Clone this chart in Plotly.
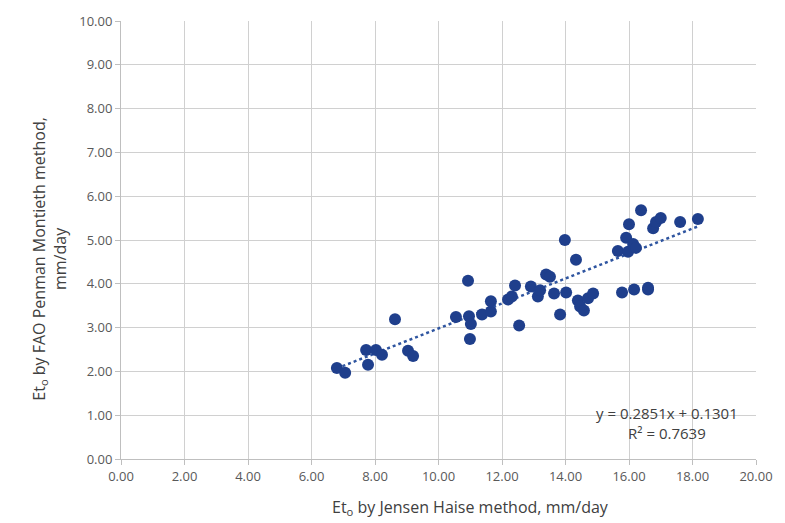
import numpy as np
import plotly.graph_objects as go

jensen_haise = [6.80, 7.06, 7.72, 7.78, 8.03, 8.22, 8.63, 9.04, 9.20, 10.55,
                10.93, 10.96, 11.02, 10.99, 11.37, 11.65, 11.65, 12.19, 12.31, 12.41,
                12.54, 12.91, 13.13, 13.20, 13.39, 13.51, 13.64, 13.83, 13.98, 14.02,
                14.33, 14.39, 14.46, 14.58, 14.71, 14.87, 15.65, 15.78, 15.91, 15.97,
                16.00, 16.13, 16.16, 16.22, 16.38, 16.60, 16.60, 16.76, 16.85, 17.00,
                17.61, 18.17]
fao_pm = [2.08, 1.97, 2.49, 2.15, 2.49, 2.38, 3.19, 2.47, 2.35, 3.24,
          4.07, 3.26, 3.08, 2.74, 3.30, 3.37, 3.60, 3.64, 3.71, 3.96,
          3.05, 3.94, 3.71, 3.85, 4.21, 4.16, 3.78, 3.30, 5.00, 3.80,
          4.55, 3.62, 3.48, 3.39, 3.67, 3.78, 4.75, 3.80, 5.05, 4.73,
          5.36, 4.91, 3.87, 4.82, 5.68, 3.87, 3.91, 5.27, 5.41, 5.50,
          5.41, 5.48]
slope = 0.2851
intercept = 0.1301
r_squared = 0.7639
x_title = "Et<sub>o</sub> by Jensen Haise method, mm/day"
y_title = "Et<sub>o</sub> by FAO Penman Montieth method,<br>mm/day"

blue = "#1F3F8C"
xs = np.array(jensen_haise)
tx = np.linspace(xs.min(), xs.max(), 50)
ty = slope * tx + intercept

fig = go.Figure()
fig.add_trace(go.Scatter(x=tx, y=ty, mode="lines",
                         line=dict(color="#2F55A0", width=2.5, dash="dot"),
                         hoverinfo="skip"))
fig.add_trace(go.Scatter(x=jensen_haise, y=fao_pm, mode="markers",
                         marker=dict(color=blue, size=12)))

axis_common = dict(showgrid=True, gridcolor="#D0D0D0", gridwidth=1,
                   showline=True, linecolor="#BFBFBF", linewidth=1,
                   ticks="outside", ticklen=5, tickcolor="#BFBFBF",
                   tickformat=".2f", zeroline=False,
                   tickfont=dict(family="Open Sans, Lato, sans-serif", size=13, color="#595959"))

fig.update_xaxes(range=[0, 20], dtick=2, tick0=0, **axis_common)
fig.update_yaxes(range=[0, 10], dtick=1, tick0=0, **axis_common)

title_font = dict(family="Open Sans, sans-serif", size=16, color="#404040")
fig.add_annotation(x=0.551, y=-0.111, xref="paper", yref="paper", showarrow=False,
                   text=x_title, font=title_font, xanchor="center", yanchor="middle")
fig.add_annotation(x=-0.112, y=0.457, xref="paper", yref="paper", showarrow=False,
                   text=y_title, font=title_font, textangle=-90,
                   xanchor="center", yanchor="middle", align="center")

fig.add_annotation(x=17.2, y=0.83, xref="x", yref="y", showarrow=False,
                   text=f"y = {slope}x + {intercept}<br>R² = {r_squared}",
                   font=dict(family="Open Sans, sans-serif", size=15, color="#404040"),
                   align="center", bgcolor="rgba(255,255,255,0)")

fig.update_layout(width=785, height=523, showlegend=False,
                  margin=dict(l=121, r=29, t=17, b=64),
                  plot_bgcolor="white", paper_bgcolor="white")

fig.write_html("out.html")
